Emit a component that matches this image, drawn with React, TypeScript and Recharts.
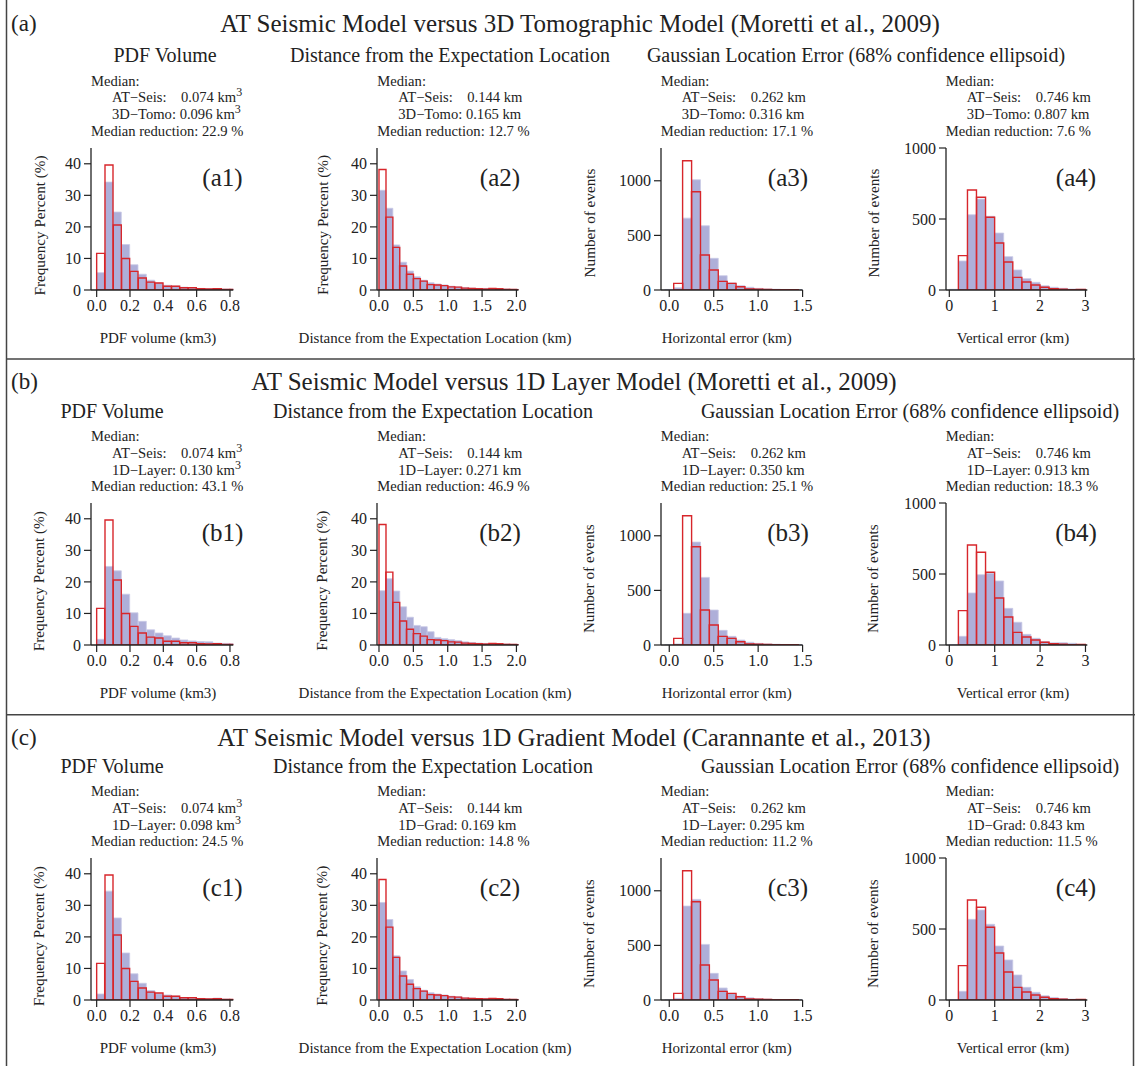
import React from 'react';
import { BarChart, Bar, XAxis, YAxis } from 'recharts';

const FONT = '"Liberation Serif", "Times New Roman", serif';

// ---- bins (bin centres) ----
const pdfBins = [0.025, 0.075, 0.125, 0.175, 0.225, 0.275, 0.325, 0.375, 0.425, 0.475, 0.525, 0.575, 0.625, 0.675, 0.725, 0.775, 0.825];
const distBins = [0.05, 0.15, 0.25, 0.35, 0.45, 0.55, 0.65, 0.75, 0.85, 0.95, 1.05, 1.15, 1.25, 1.35, 1.45, 1.55, 1.65, 1.75, 1.85, 1.95, 2.05];
const horBins = [0.0, 0.1, 0.2, 0.3, 0.4, 0.5, 0.6, 0.7, 0.8, 0.9, 1.0, 1.1, 1.2, 1.3, 1.4, 1.5];
const verBins = [0.1, 0.3, 0.5, 0.7, 0.9, 1.1, 1.3, 1.5, 1.7, 1.9, 2.1, 2.3, 2.5, 2.7, 2.9];

// ---- AT seismic model (red outline) ----
const pdfAtSeis = [11.6, 39.6, 20.6, 10.0, 5.9, 3.8, 2.5, 2.2, 1.2, 1.2, 0.7, 0.7, 0.4, 0.3, 0.4, 0.2, 0.2];
const distAtSeis = [38.2, 23.1, 13.5, 7.6, 5.0, 3.6, 2.8, 1.7, 1.6, 1.4, 1.0, 0.9, 0.6, 0.5, 0.4, 0.3, 0.5, 0.4, 0.2, 0.2, 0.1];
const horAtSeis = [0, 61, 1183, 899, 320, 183, 79, 61, 30, 10, 8, 5, 3, 2, 3, 0];
const verAtSeis = [0, 242, 704, 653, 512, 331, 197, 89, 56, 35, 19, 10, 5, 2, 3];

// ---- 3D tomographic model (blue) ----
const pdfTomo3D = [5.5, 34.2, 24.7, 14.4, 8.0, 5.0, 3.1, 2.2, 1.5, 1.3, 0.9, 0.7, 0.5, 0.4, 0.4, 0.3, 0.3];
const distTomo3D = [31.6, 25.9, 14.3, 8.8, 6.0, 4.2, 3.1, 2.3, 1.9, 1.6, 1.2, 1.0, 0.8, 0.6, 0.5, 0.5, 0.4, 0.3, 0.3, 0.2, 0.2];
const horTomo3D = [5, 20, 658, 1009, 588, 290, 131, 65, 40, 25, 15, 10, 7, 5, 4, 3];
const verTomo3D = [5, 204, 530, 640, 519, 401, 235, 141, 80, 54, 30, 19, 12, 7, 5];

// ---- 1D layer model (blue) ----
const pdfLayer1D = [1.8, 24.9, 23.5, 16.1, 10.2, 7.5, 4.8, 3.8, 2.9, 2.2, 1.6, 1.3, 1.1, 1.0, 0.6, 0.5, 0.4];
const distLayer1D = [17.2, 21.0, 17.1, 12.1, 8.8, 6.2, 5.8, 4.2, 2.4, 2.0, 1.7, 1.4, 1.0, 0.8, 0.6, 0.5, 0.4, 0.3, 0.3, 0.2, 0.2];
const horLayer1D = [3, 10, 290, 942, 619, 320, 134, 79, 45, 25, 15, 10, 7, 5, 3, 2];
const verLayer1D = [3, 61, 366, 495, 505, 451, 258, 160, 75, 47, 25, 15, 16, 12, 4];

// ---- 1D gradient model (blue) ----
const pdfGrad1D = [1.9, 34.5, 26.0, 14.9, 8.3, 5.3, 3.0, 2.0, 1.6, 1.3, 0.8, 0.6, 0.5, 0.4, 0.6, 0.3, 0.2];
const distGrad1D = [30.9, 25.5, 14.0, 9.2, 6.5, 4.2, 3.1, 2.3, 1.9, 1.6, 1.2, 1.0, 0.7, 0.6, 0.5, 0.5, 0.4, 0.3, 0.3, 0.2, 0.2];
const horGrad1D = [3, 15, 860, 921, 509, 244, 110, 60, 35, 20, 12, 8, 5, 4, 3, 2];
const verGrad1D = [3, 61, 568, 634, 533, 380, 282, 176, 89, 54, 30, 18, 10, 6, 3];

// ---- tick labels ----
const pdfTicks = [0, 0.2, 0.4, 0.6, 0.8];
const distTicks = [0, 0.5, 1.0, 1.5, 2.0];
const horTicks = [0, 0.5, 1.0, 1.5];
const verTicks = [0, 1, 2, 3];
const pctTicks = [0, 10, 20, 30, 40];
const horCountTicks = [0, 500, 1000];
const verCountTicks = [0, 500, 1000];

// ---- annotation texts ----
const atSeisMedians = ['0.074', '0.144', '0.262', '0.746'];
const medianUnits = ['km3', 'km', 'km', 'km'];
const sectionTitles = ['PDF Volume', 'Distance from the Expectation Location', 'Gaussian Location Error (68% confidence ellipsoid)'];
const xLabels = ['PDF volume (km3)', 'Distance from the Expectation Location (km)', 'Horizontal error (km)', 'Vertical error (km)'];
const yLabels = ['Frequency Percent (%)', 'Frequency Percent (%)', 'Number of events', 'Number of events'];

const rowIds = ['a', 'b', 'c'];
const rowTitles = [
  'AT Seismic Model versus 3D Tomographic Model (Moretti et al., 2009)',
  'AT Seismic Model versus 1D Layer Model (Moretti et al., 2009)',
  'AT Seismic Model versus 1D Gradient Model (Carannante et al., 2013)',
];
const rowModelNames = [
  ['3D−Tomo', '3D−Tomo', '3D−Tomo', '3D−Tomo'],
  ['1D−Layer', '1D−Layer', '1D−Layer', '1D−Layer'],
  ['1D−Layer', '1D−Grad', '1D−Layer', '1D−Grad'],
];
const rowModelMedians = [
  ['0.096', '0.165', '0.316', '0.807'],
  ['0.130', '0.271', '0.350', '0.913'],
  ['0.098', '0.169', '0.295', '0.843'],
];
const rowReductions = [
  ['22.9', '12.7', '17.1', '7.6'],
  ['43.1', '46.9', '25.1', '18.3'],
  ['24.5', '14.8', '11.2', '11.5'],
];
const rowBlue = [
  [pdfTomo3D, distTomo3D, horTomo3D, verTomo3D],
  [pdfLayer1D, distLayer1D, horLayer1D, verLayer1D],
  [pdfGrad1D, distGrad1D, horGrad1D, verGrad1D],
];
const colBins = [pdfBins, distBins, horBins, verBins];
const colRed = [pdfAtSeis, distAtSeis, horAtSeis, verAtSeis];

// ---- layout (positions / styles) ----
const ROW_OFF = [0, 355.7, 710.7];
const TITLE_Y = [23, 381, 737];
const TITLE_X = [580, 574, 574];
const SEC_Y = [55, 411, 766];
const SEC_X = [[165, 450, 856], [112, 433, 910], [112, 433, 910]];
const PLOT_TOP = 147.5;
const PLOT_H = 142;

const cols = [
  { axisX: 91, plotW: 142.3, xDomain: [-0.034, 0.82], xTicks: pdfTicks, dec: 1, yDomain: [0, 45], yTicks: pctTicks, yLabX: 39, yLabY: 225.5, xLabX: 158, panX: 222.5 },
  { axisX: 377.3, plotW: 141.5, xDomain: [-0.029, 2.03], xTicks: distTicks, dec: 1, yDomain: [0, 45], yTicks: pctTicks, yLabX: 322, yLabY: 225, xLabX: 435, panX: 500 },
  { axisX: 660.7, plotW: 141.6, xDomain: [-0.093, 1.5], xTicks: horTicks, dec: 1, yDomain: [0, 1300], yTicks: horCountTicks, yLabX: 589, yLabY: 223, xLabX: 726.7, panX: 788 },
  { axisX: 945.7, plotW: 141.3, xDomain: [-0.073, 3.04], xTicks: verTicks, dec: 0, yDomain: [0, 1000], yTicks: verCountTicks, yLabX: 873, yLabY: 223, xLabX: 1013, panX: 1076 },
];

const INK = '#222';
const BLUE = '#aeafd9';
const RED = '#d7262b';
const ANN = 14.6;

type HistProps = {
  left: number; top: number; plotW: number; plotH: number;
  bins: number[]; red: number[]; blue: number[];
  xDomain: number[]; xTicks: number[]; dec: number; yDomain: number[]; yTicks: number[];
};

function Hist(p: HistProps) {
  const data = p.bins.map((x, i) => ({ x, blue: p.blue[i], red: p.red[i] }));
  const YW = 52, MT = 14, MR = 12, XH = 40;
  const tickStyle = { fontSize: 16, fill: INK, fontFamily: FONT };
  return (
    <div style={{ position: 'absolute', left: p.left - YW, top: p.top - MT }}>
      <BarChart
        width={YW + p.plotW + MR}
        height={MT + p.plotH + XH}
        data={data}
        margin={{ top: MT, right: MR, bottom: 0, left: 0 }}
        barCategoryGap={0}
        barGap={0}
      >
        <XAxis
          xAxisId="b" type="number" dataKey="x" domain={p.xDomain} allowDataOverflow
          ticks={p.xTicks} interval={0} tickFormatter={(v: number) => v.toFixed(p.dec)}
          height={XH} tickSize={7} tickMargin={3} tick={tickStyle}
          axisLine={{ stroke: INK, strokeWidth: 1.3 }} tickLine={{ stroke: INK, strokeWidth: 1.2 }}
        />
        <XAxis xAxisId="r" type="number" dataKey="x" domain={p.xDomain} allowDataOverflow hide />
        <YAxis
          type="number" domain={p.yDomain} allowDataOverflow ticks={p.yTicks} interval={0}
          width={YW} tickSize={7} tickMargin={3} tick={tickStyle}
          axisLine={{ stroke: INK, strokeWidth: 1.3 }} tickLine={{ stroke: INK, strokeWidth: 1.2 }}
        />
        <Bar xAxisId="b" dataKey="blue" fill={BLUE} stroke="#c9cae6" strokeWidth={0.8} isAnimationActive={false} />
        <Bar xAxisId="r" dataKey="red" fill="none" stroke={RED} strokeWidth={1.4} isAnimationActive={false} />
      </BarChart>
    </div>
  );
}

function KmText({ value, unit }: { value: string; unit: string }) {
  if (unit === 'km3') {
    return (
      <>
        <tspan>{value} km</tspan>
        <tspan dy={-5} fontSize={12}>3</tspan>
      </>
    );
  }
  return <tspan>{value} {unit}</tspan>;
}

export default function App() {
  const texts: React.ReactNode[] = [];
  rowIds.forEach((rid, r) => {
    const off = ROW_OFF[r];
    texts.push(
      <text key={`rid${r}`} x={11} y={TITLE_Y[r]} fontSize={23} dominantBaseline="central">({rid})</text>,
      <text key={`rt${r}`} x={TITLE_X[r]} y={TITLE_Y[r]} fontSize={25} textAnchor="middle" dominantBaseline="central">{rowTitles[r]}</text>,
    );
    sectionTitles.forEach((s, k) => {
      texts.push(
        <text key={`st${r}${k}`} x={SEC_X[r][k]} y={SEC_Y[r]} fontSize={20} textAnchor="middle" dominantBaseline="central">{s}</text>,
      );
    });
    cols.forEach((c, j) => {
      const ax = c.axisX;
      texts.push(
        <text key={`m0${r}${j}`} x={ax} y={off + 80.7} fontSize={ANN} dominantBaseline="central">Median:</text>,
        <text key={`m1${r}${j}`} x={ax + 21} y={off + 97.3} fontSize={ANN} dominantBaseline="central">AT−Seis:</text>,
        <text key={`m1v${r}${j}`} x={ax + 90} y={off + 97.3} fontSize={ANN} dominantBaseline="central"><KmText value={atSeisMedians[j]} unit={medianUnits[j]} /></text>,
        <text key={`m2${r}${j}`} x={ax + 21} y={off + 114} fontSize={ANN} dominantBaseline="central">{rowModelNames[r][j]}: <KmText value={rowModelMedians[r][j]} unit={medianUnits[j]} /></text>,
        <text key={`m3${r}${j}`} x={ax} y={off + 130.7} fontSize={ANN} dominantBaseline="central">Median reduction: {rowReductions[r][j]} %</text>,
        <text key={`pl${r}${j}`} x={c.panX} y={off + 177} fontSize={25} textAnchor="middle" dominantBaseline="central">({rid}{j + 1})</text>,
        <text key={`xl${r}${j}`} x={c.xLabX} y={off + 337.7} fontSize={15} textAnchor="middle" dominantBaseline="central">{xLabels[j]}</text>,
        <text key={`yl${r}${j}`} x={c.yLabX} y={off + c.yLabY} fontSize={15.2} textAnchor="middle" dominantBaseline="central" transform={`rotate(-90 ${c.yLabX} ${off + c.yLabY})`}>{yLabels[j]}</text>,
      );
    });
  });

  return (
    <div style={{ position: 'absolute', left: 0, top: 0, width: 1135, height: 1066, background: '#fff', fontFamily: FONT }}>
      <svg width={1135} height={1066} style={{ position: 'absolute', left: 0, top: 0 }} fontFamily={FONT} fill={INK}>
        <line x1={6.5} y1={0} x2={6.5} y2={1066} stroke="#444" strokeWidth={1.5} />
        <line x1={1133.5} y1={0} x2={1133.5} y2={1066} stroke="#444" strokeWidth={1.5} />
        <line x1={6.5} y1={359} x2={1135} y2={359} stroke="#444" strokeWidth={1.5} />
        <line x1={6.5} y1={714.7} x2={1135} y2={714.7} stroke="#444" strokeWidth={1.5} />
        {texts}
      </svg>
      {rowIds.map((rid, r) =>
        cols.map((c, j) => (
          <Hist
            key={`h${r}${j}`}
            left={c.axisX}
            top={PLOT_TOP + ROW_OFF[r]}
            plotW={c.plotW}
            plotH={PLOT_H}
            bins={colBins[j]}
            red={colRed[j]}
            blue={rowBlue[r][j]}
            xDomain={c.xDomain}
            xTicks={c.xTicks}
            dec={c.dec}
            yDomain={c.yDomain}
            yTicks={c.yTicks}
          />
        ))
      )}
    </div>
  );
}
